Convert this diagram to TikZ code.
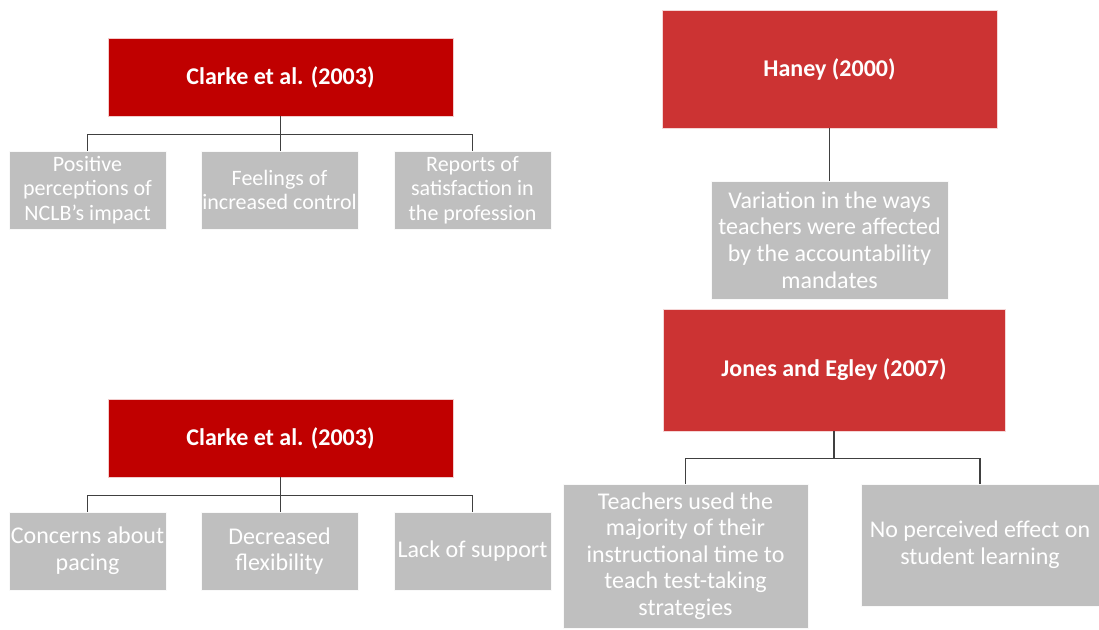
\documentclass[tikz,border=0pt]{standalone}
\usepackage{fontspec}
\setmainfont{Carlito}
\definecolor{darkred}{HTML}{C00000}
\definecolor{midred}{HTML}{CC3333}
\definecolor{boxgray}{HTML}{BFBFBF}
\definecolor{linegray}{HTML}{404040}
\tikzset{
  redbox/.style={fill=#1, draw=white!80!#1, line width=0.6pt, text=white, font=\bfseries\fontsize{24}{28}\selectfont, inner sep=0pt, align=center},
  graybox/.style={fill=boxgray, draw=white!90!boxgray, line width=0.6pt, text=white, inner sep=0pt, align=center},
  small/.style={font=\fontsize{22}{24.5}\selectfont},
  large/.style={font=\fontsize{24}{26.6}\selectfont},
  conn/.style={draw=linegray, line width=1.4pt}
}
\begin{document}
\begin{tikzpicture}[x=1pt,y=-1pt]
\useasboundingbox (0,0) rectangle (1099,629);
% top-left tree
\node[redbox=darkred, minimum width=345pt, minimum height=78pt] (c1) at (280.5,77) {Clarke et al. (2003)};
\node[graybox, small, minimum width=157pt, minimum height=78pt] (g1) at (87.5,190) {Positive\\perceptions of\\NCLB’s impact};
\node[graybox, small, minimum width=157pt, minimum height=78pt] (g2) at (279.5,190) {Feelings of\\increased control};
\node[graybox, small, minimum width=157pt, minimum height=78pt] (g3) at (472.5,190) {Reports of\\satisfaction in\\the profession};
\draw[conn] (c1.south) -- ++(0,18) -| (g1.north);
\draw[conn] (c1.south) -- ++(0,18) -| (g3.north);
\draw[conn] (c1.south) -- (c1.south |- g2.north);
% bottom-left tree
\node[redbox=darkred, minimum width=345pt, minimum height=78pt] (c2) at (280.5,438) {Clarke et al. (2003)};
\node[graybox, large, minimum width=157pt, minimum height=78pt] (h1) at (87.5,551) {Concerns about\\pacing};
\node[graybox, large, minimum width=157pt, minimum height=78pt] (h2) at (279.5,551) {Decreased\\flexibility};
\node[graybox, large, minimum width=157pt, minimum height=78pt] (h3) at (472.5,551) {Lack of support};
\draw[conn] (c2.south) -- ++(0,18) -| (h1.north);
\draw[conn] (c2.south) -- ++(0,18) -| (h3.north);
\draw[conn] (c2.south) -- (c2.south |- h2.north);
% Haney
\node[redbox=midred, minimum width=335pt, minimum height=118pt] (hy) at (829.5,69) {Haney (2000)};
\node[graybox, large, minimum width=237pt, minimum height=118pt] (hg) at (829.5,240) {Variation in the ways\\teachers were affected\\by the accountability\\mandates};
\draw[conn] (hy.south) -- (hy.south |- hg.north);
% Jones and Egley
\node[redbox=midred, minimum width=342pt, minimum height=122pt] (je) at (834,370) {Jones and Egley (2007)};
\node[graybox, large, minimum width=245pt, minimum height=144pt] (j1) at (685.5,556) {Teachers used the\\majority of their\\instructional time to\\teach test-taking\\strategies};
\node[graybox, large, minimum width=238pt, minimum height=122pt] (j2) at (980,545) {No perceived effect on\\student learning};
\draw[conn] (je.south) -- ++(0,27) -| (j1.north);
\draw[conn] (je.south) -- ++(0,27) -| (j2.north);
\end{tikzpicture}
\end{document}
